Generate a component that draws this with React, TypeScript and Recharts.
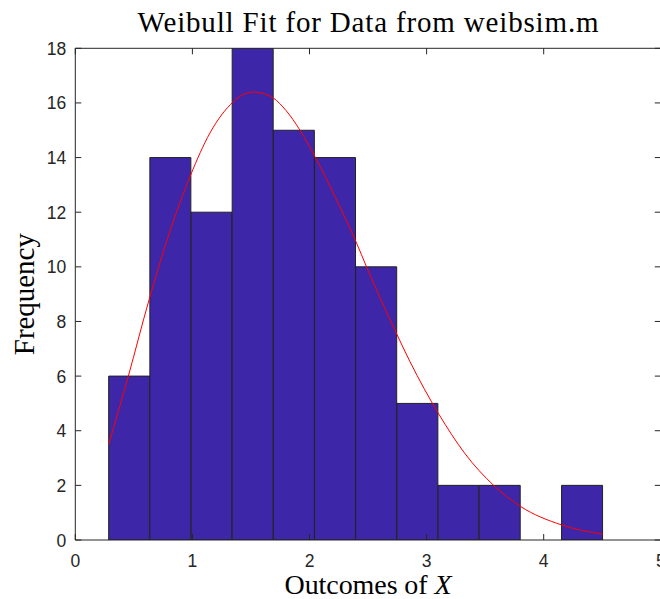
import { ComposedChart, Bar, Line, XAxis, YAxis } from "recharts";

// histogram bins (centres) and counts
const binCenters = [0.461, 0.812, 1.164, 1.515, 1.867, 2.219, 2.57, 2.922, 3.273, 3.625, 3.977, 4.328];
const binCounts = [6, 14, 12, 18, 15, 14, 10, 5, 2, 2, 0, 2];
const FIRST_EDGE = 0.285;
const LAST_EDGE = 4.504;

// red weibull fit curve
const fitX = [0.285, 0.453, 0.629, 0.8, 0.985, 1.15, 1.349, 1.43, 1.52, 1.6, 1.691, 1.8, 1.919, 2.047, 2.22, 2.397, 2.488, 2.745, 2.858, 3.1, 3.33, 3.57, 3.798, 4.154, 4.504];
const fitY = [3.5, 6.0, 8.78, 11.2, 13.36, 14.9, 16.04, 16.3, 16.4, 16.35, 16.18, 15.72, 15.0, 14.03, 12.55, 10.92, 9.99, 7.54, 6.53, 4.64, 3.15, 2.01, 1.24, 0.55, 0.21];

const xTicks = [0, 1, 2, 3, 4, 5];
const yTicks = [0, 2, 4, 6, 8, 10, 12, 14, 16, 18];
const X_MAX = 5;

const W = 668;
const H = 599;
const LEFT = 75.3;
const RIGHT = 7.2;
const TOP = 48.3;
const BOTTOM = 59;
const plotW = W - LEFT - RIGHT;
const padL = (FIRST_EDGE / X_MAX) * plotW;
const padR = ((X_MAX - LAST_EDGE) / X_MAX) * plotW;

const AXIS = "#262626";
const TICK_FONT = "'Liberation Sans', Arial, sans-serif";
const SERIF = "'Liberation Serif', 'Times New Roman', serif";
const TICK_LEN = 6;

const histData = binCenters.map((x, i) => ({ x, count: binCounts[i] }));
const fitData = fitX.map((x, i) => ({ x, fit: fitY[i] }));

function BottomTick({ x, y, payload }: any) {
  return (
    <g>
      <line x1={x} x2={x} y1={y} y2={y - TICK_LEN} stroke={AXIS} />
      <text x={x} y={y + 27} textAnchor="middle" fill={AXIS} fontSize={17.5} fontFamily={TICK_FONT}>
        {payload.value}
      </text>
    </g>
  );
}

function TopTick({ x, y }: any) {
  return <line x1={x} x2={x} y1={y} y2={y + TICK_LEN} stroke={AXIS} />;
}

function LeftTick({ x, y, payload }: any) {
  return (
    <g>
      <line x1={x} x2={x + TICK_LEN} y1={y} y2={y} stroke={AXIS} />
      <text x={x - 9} y={y + 6.5} textAnchor="end" fill={AXIS} fontSize={17.5} fontFamily={TICK_FONT}>
        {payload.value}
      </text>
    </g>
  );
}

function RightTick({ x, y }: any) {
  return <line x1={x} x2={x - TICK_LEN} y1={y} y2={y} stroke={AXIS} />;
}

function TitleLabel({ viewBox }: any) {
  const cx = viewBox.x + viewBox.width / 2;
  return (
    <text x={cx} y={32} textAnchor="middle" fontSize={29} fontFamily={SERIF} fill="#000" textLength={461} lengthAdjust="spacing">
      Weibull Fit for Data from weibsim.m
    </text>
  );
}

function XLabel({ viewBox }: any) {
  const cx = viewBox.x + viewBox.width / 2;
  return (
    <text x={cx} y={594} textAnchor="middle" fontSize={28} fontFamily={SERIF} fill="#000" textLength={167} lengthAdjust="spacing">
      Outcomes of <tspan fontStyle="italic">X</tspan>
    </text>
  );
}

function YLabel({ viewBox }: any) {
  const cy = viewBox.y + viewBox.height / 2;
  return (
    <text x={34} y={cy} transform={`rotate(-90 34 ${cy})`} textAnchor="middle" fontSize={29} fontFamily={SERIF} fill="#000" textLength={122} lengthAdjust="spacing">
      Frequency
    </text>
  );
}

export default function App() {
  return (
    <div style={{ width: 660, height: H, overflow: "hidden", background: "#fff" }}>
      <style>{"body{margin:0}"}</style>
      <ComposedChart width={W} height={H} data={histData} margin={{ top: 0, right: 0, bottom: 0, left: 0 }} barGap={0} barCategoryGap={0}>
        <XAxis
          dataKey="x"
          type="number"
          domain={[0, X_MAX]}
          ticks={xTicks}
          allowDataOverflow
          height={BOTTOM}
          tickSize={0}
          tickMargin={0}
          tickLine={false}
          axisLine={{ stroke: AXIS }}
          tick={(p: any) => <BottomTick {...p} />}
          label={(p: any) => <XLabel {...p} />}
        />
        <XAxis
          xAxisId="bins"
          dataKey="x"
          type="category"
          hide
          padding={{ left: padL, right: padR }}
        />
        <XAxis
          xAxisId="top"
          orientation="top"
          dataKey="x"
          type="number"
          domain={[0, X_MAX]}
          ticks={xTicks}
          allowDataOverflow
          height={TOP}
          tickSize={0}
          tickMargin={0}
          tickLine={false}
          axisLine={{ stroke: AXIS }}
          tick={(p: any) => <TopTick {...p} />}
          label={(p: any) => <TitleLabel {...p} />}
        />
        <YAxis
          type="number"
          domain={[0, 18]}
          ticks={yTicks}
          allowDataOverflow
          width={LEFT}
          tickSize={0}
          tickMargin={0}
          tickLine={false}
          axisLine={{ stroke: AXIS }}
          tick={(p: any) => <LeftTick {...p} />}
          label={(p: any) => <YLabel {...p} />}
        />
        <YAxis
          yAxisId="right"
          orientation="right"
          type="number"
          domain={[0, 18]}
          ticks={yTicks}
          allowDataOverflow
          width={RIGHT}
          tickSize={0}
          tickMargin={0}
          tickLine={false}
          axisLine={{ stroke: AXIS }}
          tick={(p: any) => <RightTick {...p} />}
        />
        <Bar xAxisId="bins" dataKey="count" fill="#3e26a8" stroke="#222" strokeWidth={1} isAnimationActive={false} />
        <Line data={fitData} dataKey="fit" type="monotone" stroke="#ff0000" strokeWidth={1} dot={false} activeDot={false} isAnimationActive={false} />
      </ComposedChart>
    </div>
  );
}
